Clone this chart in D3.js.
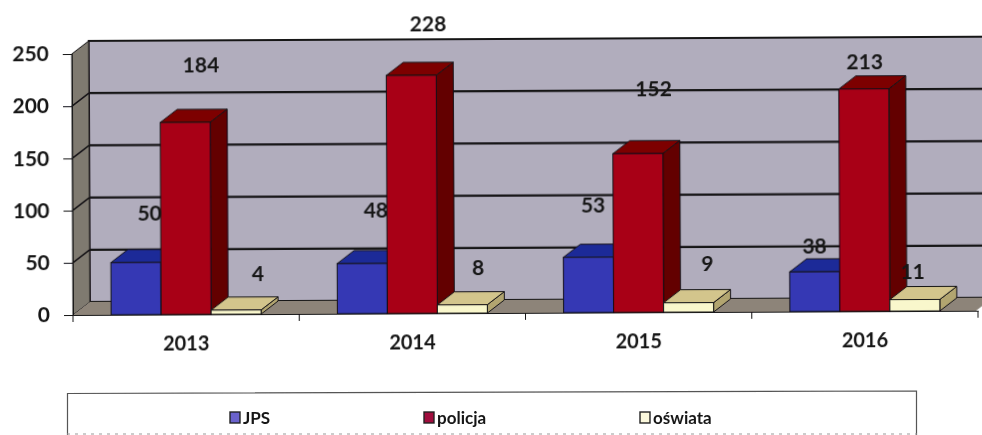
<!DOCTYPE html>
<html>
<head>
<meta charset="utf-8">
<script src="https://cdn.jsdelivr.net/npm/d3@7"></script>
<style>
  html, body { margin: 0; padding: 0; background: #fff; }
  svg { display: block; }
  text { font-family: Lato, "Open Sans", sans-serif; font-weight: 700; fill: #161616; }
</style>
</head>
<body>
<div id="chart"></div>
<script>
const years = ["2013", "2014", "2015", "2016"];
const seriesNames = ["JPS", "policja", "oświata"];
const jps = [50, 48, 53, 38];
const policja = [184, 228, 152, 213];
const oswiata = [4, 8, 9, 11];
const yTicks = [0, 50, 100, 150, 200, 250];

// Data labels sit away from the bars in the original, so each one gets a nudge
const labelNudges = [
    [[14, -49], [14, -53], [5, -52], [0, -26]],
    [[16, -57], [17, -51], [16, -65], [1, -27]],
    [[22, -36], [16, -37], [19, -39], [-2, -28]]
];

const svg = d3.select("#chart").append("svg")
    .attr("width", 982)
    .attr("height", 435);

let defs = svg.append("defs");
defs.append("filter").attr("id", "scan")
    .append("feGaussianBlur").attr("stdDeviation", 0.3);

// The scan is very slightly tilted
let plot = svg.append("g")
    .attr("filter", "url(#scan)")
    .attr("transform", "rotate(-0.27 73 315)");

const depthX = 17, depthY = 13;
const x = d3.scaleBand().domain(years).range([73, 978]);
const barScale = d3.scaleBand().domain(seriesNames).range([-75, 75]);
const y = d3.scaleLinear().domain([0, 250]).range([315, 54]);
const barWidth = barScale.bandwidth();

const poly = pts => pts.map(p => p.join(",")).join(" ");
const line = "#141216";

// Back wall, left wall and floor
plot.append("polygon")
    .attr("points", poly([[73 + depthX, y(250) - depthY], [1000, y(250) - depthY], [1000, y(0) - depthY], [73 + depthX, y(0) - depthY]]))
    .attr("fill", "#b1adbd")
    .attr("stroke", line)
    .attr("stroke-width", 1.8);
plot.append("polygon")
    .attr("points", poly([[73, y(250)], [73 + depthX, y(250) - depthY], [73 + depthX, y(0) - depthY], [73, y(0)]]))
    .attr("fill", "#7f7a70")
    .attr("stroke", line);
plot.append("polygon")
    .attr("points", poly([[73, y(0)], [73 + depthX, y(0) - depthY], [993, y(0) - depthY], [976, y(0)]]))
    .attr("fill", "#8d8479");

// Gridlines on the wall, with the short diagonal on the left wall
yTicks.slice(1, 5).forEach(t => {
    plot.append("line")
        .attr("x1", 73).attr("y1", y(t))
        .attr("x2", 73 + depthX).attr("y2", y(t) - depthY)
        .attr("stroke", line).attr("stroke-width", 1.5);
    plot.append("line")
        .attr("x1", 73 + depthX).attr("y1", y(t) - depthY)
        .attr("x2", 1000).attr("y2", y(t) - depthY)
        .attr("stroke", line).attr("stroke-width", 2.2);
});

// Axes
let yAxis = plot.append("g")
    .attr("transform", "translate(73,0)")
    .call(d3.axisLeft(y).tickValues(yTicks).tickSize(9).tickPadding(14));
yAxis.select(".domain").attr("stroke", line);
yAxis.selectAll("line").attr("stroke", line);
yAxis.selectAll("text").style("font-size", "21px").style("font-family", "Lato").attr("fill", "#161616");

let xAxis = plot.append("g")
    .attr("transform", "translate(0," + y(0) + ")")
    .call(d3.axisBottom(x).tickSize(0).tickPadding(22));
xAxis.select(".domain").attr("stroke", line).attr("stroke-width", 1.2);
xAxis.selectAll("text").style("font-size", "20px").style("font-family", "Lato").attr("fill", "#161616");
xAxis.selectAll(".sep")
    .data(x.domain().concat("end"))
    .enter().append("line")
    .attr("x1", d => d === "end" ? x.range()[1] : x(d))
    .attr("x2", d => d === "end" ? x.range()[1] : x(d))
    .attr("y1", 0).attr("y2", 7)
    .attr("stroke", line);

// Bars
const seriesValues = [jps, policja, oswiata];
const barColors = [
    { front: "#3438b4", top: "#1f2b98", side: "#16207a" },
    { front: "#a80013", top: "#7d0000", side: "#640000" },
    { front: "#f9f7cc", top: "#d3c58c", side: "#b2a56f" }
];

years.forEach((year, i) => {
    let group = plot.append("g");
    seriesNames.forEach((name, s) => {
        let x0 = x(year) + x.bandwidth() / 2 + barScale(name);
        let x1 = x0 + barWidth;
        let top = y(seriesValues[s][i]);
        let c = barColors[s];
        group.append("polygon")
            .attr("points", poly([[x1, top], [x1 + depthX, top - depthY], [x1 + depthX, y(0) - depthY], [x1, y(0)]]))
            .attr("fill", c.side).attr("stroke", line).attr("stroke-width", 1);
        group.append("polygon")
            .attr("points", poly([[x0, top], [x0 + depthX, top - depthY], [x1 + depthX, top - depthY], [x1, top]]))
            .attr("fill", c.top).attr("stroke", line).attr("stroke-width", 1);
        group.append("rect")
            .attr("x", x0).attr("y", top)
            .attr("width", barWidth).attr("height", y(0) - top)
            .attr("fill", c.front).attr("stroke", line).attr("stroke-width", 1);
    });
});

// Data labels
seriesNames.forEach((name, s) => {
    years.forEach((year, i) => {
        let v = seriesValues[s][i];
        plot.append("text")
            .attr("x", x(year) + x.bandwidth() / 2 + barScale(name) + barWidth / 2 + labelNudges[s][i][0])
            .attr("y", y(v) + labelNudges[s][i][1])
            .attr("dy", "0.35em")
            .attr("text-anchor", "middle")
            .style("font-size", "21px")
            .text(v);
    });
});

// Legend, cut off by the bottom of the picture
let legend = svg.append("g").attr("filter", "url(#scan)");
legend.append("path")
    .attr("d", "M67.5,435V393.5L916.5,391V435")
    .attr("fill", "none")
    .attr("stroke", "#555")
    .attr("stroke-width", 1.2);
legend.append("line")
    .attr("x1", 67).attr("y1", 434)
    .attr("x2", 917).attr("y2", 434)
    .attr("stroke", "#999")
    .attr("stroke-dasharray", "3 5");

const legendX = d3.scaleOrdinal().domain(seriesNames).range([230, 424, 640]);
const legendFill = ["#6a62cc", "#a00c3c", "#fbf8dc"];
seriesNames.forEach((name, s) => {
    let lx = legendX(name);
    legend.append("rect")
        .attr("x", lx).attr("y", 412)
        .attr("width", 10).attr("height", 11)
        .attr("fill", legendFill[s])
        .attr("stroke", "#222").attr("stroke-width", 1.4);
    legend.append("text")
        .attr("x", lx + 13).attr("y", 424)
        .style("font-size", "17px")
        .text(name);
});
</script>
</body>
</html>
